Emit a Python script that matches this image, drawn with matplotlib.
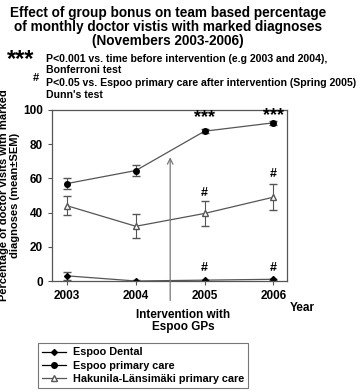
import matplotlib
matplotlib.use("Agg")
import matplotlib.pyplot as plt
from matplotlib.lines import Line2D

plt.rcParams['font.family'] = ['Liberation Sans', 'DejaVu Sans']
plt.rcParams['font.weight'] = 'bold'

years = [2003, 2004, 2005, 2006]
dental = [3, 0, 0.5, 1]
dental_err = [2.5, 0.3, 0.3, 0.4]
primary = [57, 64.6, 87.6, 92.5]
primary_err = [3, 3, 1, 1]
hakunila = [44, 32, 39.5, 49]
hakunila_err = [5.5, 7, 7.5, 7.5]

star_years = [2005, 2006]
star_y = [95.5, 96.5]
hash_mid_years = [2005, 2006]
hash_mid_y = [48, 59]
hash_low_years = [2005, 2006]
hash_low_y = [4, 4]

fig = plt.figure(figsize=(3.6, 3.92), dpi=100)
W, H = 360, 392
ax = fig.add_axes([52 / W, 1 - 281 / H, (287 - 52) / W, (281 - 110) / H])

gray = '#555555'
styles = [
    dict(marker='D', ms=3, mfc='black', mec='black'),
    dict(marker='o', ms=4, mfc='black', mec='black'),
    dict(marker='^', ms=4, mfc='white', mec=gray),
]
names = ['Espoo Dental', 'Espoo primary care', 'Hakunila-Länsimäki primary care']
for vals, errs, st in zip([dental, primary, hakunila], [dental_err, primary_err, hakunila_err], styles):
    ax.errorbar(years, vals, yerr=errs, color=gray, lw=0.9, ecolor=gray,
                elinewidth=0.8, capsize=3, **st)

for x, y in zip(star_years, star_y):
    ax.text(x, y, '***', ha='center', va='center', fontsize=13)
for x, y in zip(hash_mid_years, hash_mid_y):
    ax.text(x, y, '#', ha='center', va='bottom', fontsize=9)
for x, y in zip(hash_low_years, hash_low_y):
    ax.text(x, y, '#', ha='center', va='bottom', fontsize=9)

ax.set_xlim(2003 - 0.22, 2006 + 0.2)
ax.set_ylim(0, 100)
ax.set_xticks(years)
ax.set_yticks([0, 20, 40, 60, 80, 100])
ax.tick_params(labelsize=8.5, length=3, color=gray, width=0.8)
for s in ax.spines.values():
    s.set_color(gray)
    s.set_linewidth(0.9)

ax.set_ylabel('Percentage of doctor visits with marked\ndiagnoses (mean±SEM)', fontsize=8,
              fontweight='bold', labelpad=2)

# Intervention arrow
ax.annotate('', xy=(2004.5, 74), xytext=(2004.5, -13), xycoords='data',
            textcoords='data', annotation_clip=False,
            arrowprops=dict(arrowstyle='->', color='#777777', lw=0.9))

fig.text(290 / W, 1 - 308 / H, 'Year', fontsize=8.5, ha='left', va='center')
fig.text(183 / W, 1 - 321 / H, 'Intervention with\nEspoo GPs', fontsize=8.5, ha='center',
         va='center', linespacing=1.1)

fig.text(168 / W, 1 - 27 / H,
         'Effect of group bonus on team based percentage\nof monthly doctor vistis with marked diagnoses\n(Novembers 2003-2006)',
         fontsize=9.8, ha='center', va='center', linespacing=1.0)

fig.text(7 / W, 1 - 60 / H, '***', fontsize=17, ha='left', va='center')
fs = 7.6
fig.text(46 / W, 1 - 59 / H, 'P<0.001 vs. time before intervention (e.g 2003 and 2004),',
         fontsize=fs, ha='left', va='center')
fig.text(46 / W, 1 - 70 / H, 'Bonferroni test', fontsize=fs, ha='left', va='center')
fig.text(33 / W, 1 - 78 / H, '#', fontsize=8, ha='left', va='center')
fig.text(46 / W, 1 - 83 / H, 'P<0.05 vs. Espoo primary care after intervention (Spring 2005)',
         fontsize=fs, ha='left', va='center')
fig.text(46 / W, 1 - 95 / H, "Dunn's test", fontsize=fs, ha='left', va='center')

handles = [Line2D([], [], color='black', lw=0.9, **st) for st in styles]
handles[2].set_color(gray)
leg = fig.legend(handles, names, loc='upper left', bbox_to_anchor=(38 / W, 1 - 343 / H),
                 fontsize=7.8, frameon=True, fancybox=False, edgecolor=gray,
                 handlelength=2.2, borderpad=0.4, labelspacing=0.3, handletextpad=0.6,
                 borderaxespad=0)
leg.get_frame().set_linewidth(0.8)

fig.savefig('out.png', dpi=100)
